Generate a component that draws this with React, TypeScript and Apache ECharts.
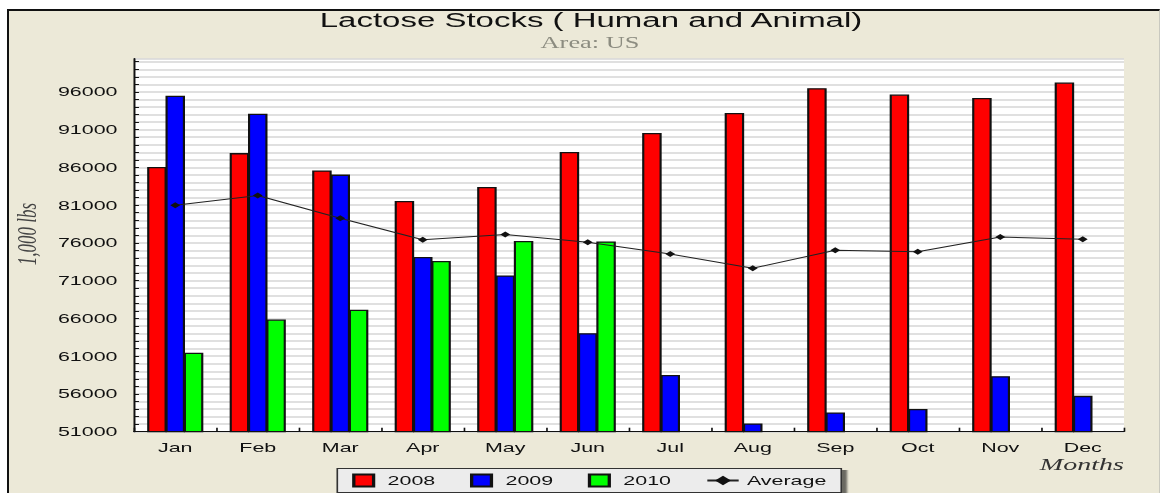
import React, { useEffect, useRef } from "react";
import * as echarts from "echarts";

const months = ["Jan", "Feb", "Mar", "Apr", "May", "Jun", "Jul", "Aug", "Sep", "Oct", "Nov", "Dec"];
const stocks2008 = [86050, 87900, 85600, 81550, 83400, 88050, 90550, 93200, 96500, 95650, 95200, 97250];
const stocks2009 = [95500, 93100, 85050, 74150, 71700, 64050, 58500, 52100, 53550, 54000, 58350, 55750];
const stocks2010 = [61450, 65850, 67150, 73600, 76250, 76200, null, null, null, null, null, null];
const average = [80990, 82280, 79260, 76430, 77120, 76090, 74530, 72650, 75030, 74830, 76780, 76500];

const Y_MIN = 51000;
const Y_MAX = 100400;
const Y_STEP = 1000;
const Y_LABEL_STEP = 5000;

const S = 1.65; // horizontal stretch of the original picture
const W = 1160 / S;
const H = 493;

const FONT = "Liberation Sans";
const SERIF = "Liberation Serif";
const squareIcon = "path://M0,0H10V10H0Z";

export default function App() {
  const ref = useRef<HTMLDivElement>(null);

  useEffect(() => {
    if (!ref.current) return;
    const chart = echarts.init(ref.current, null, { renderer: "svg", width: W, height: H });
    const barStyle = (color: string) => ({ color, borderColor: "#111", borderWidth: 1.3 });
    const barCommon = { type: "bar", barWidth: 19.5 / S, barGap: "-6%" };
    chart.setOption({
      animation: false,
      backgroundColor: "transparent",
      graphic: [
        {
          type: "text",
          x: 591 / S,
          y: 20.5,
          style: {
            text: "Lactose Stocks ( Human and Animal)",
            fontFamily: FONT,
            fontSize: 20,
            fill: "#111",
            align: "center",
            verticalAlign: "middle",
          },
        },
        {
          type: "text",
          x: 590 / S,
          y: 43,
          style: {
            text: "Area: US",
            fontFamily: SERIF,
            fontSize: 16,
            fill: "#8c8c80",
            align: "center",
            verticalAlign: "middle",
          },
        },
        {
          type: "text",
          x: 26 / S,
          y: 234,
          rotation: Math.PI / 2,
          style: {
            text: "1,000 lbs",
            fontFamily: SERIF,
            fontStyle: "italic",
            fontSize: 17,
            fill: "#444",
            align: "center",
            verticalAlign: "middle",
          },
        },
        {
          type: "text",
          x: 1124 / S,
          y: 464,
          style: {
            text: "Months",
            fontFamily: SERIF,
            fontStyle: "italic",
            fontSize: 17,
            fill: "#333",
            align: "right",
            verticalAlign: "middle",
          },
        },
      ],
      legend: {
        left: 337.3 / S,
        top: 468.5,
        orient: "horizontal",
        padding: [5, 9],
        itemWidth: 19,
        itemHeight: 12,
        itemGap: 21,
        backgroundColor: "#ececec",
        borderColor: "#333",
        borderWidth: 1,
        shadowColor: "rgba(0,0,0,0.55)",
        shadowBlur: 1,
        shadowOffsetX: 3,
        shadowOffsetY: 2,
        textStyle: { fontFamily: FONT, fontSize: 13, color: "#111" },
        data: [
          { name: "2008", icon: squareIcon },
          { name: "2009", icon: squareIcon },
          { name: "2010", icon: squareIcon },
          { name: "Average" },
        ],
      },
      grid: {
        left: 134 / S,
        right: W - 1124 / S,
        top: 58.7,
        bottom: H - 431.7,
        show: true,
        backgroundColor: "#ffffff",
        borderWidth: 0,
      },
      xAxis: {
        type: "category",
        data: months,
        boundaryGap: true,
        axisLine: { show: true, lineStyle: { color: "#111", width: 1.2 } },
        axisTick: { show: true, inside: true, length: 4, lineStyle: { color: "#111" } },
        axisLabel: { fontFamily: FONT, fontSize: 13, color: "#111", margin: 9, interval: 0 },
        splitLine: { show: false },
      },
      yAxis: {
        type: "value",
        min: Y_MIN,
        max: Y_MAX,
        interval: Y_STEP,
        axisLine: { show: true, lineStyle: { color: "#111", width: 1.2 } },
        axisTick: { show: true, inside: true, length: 3, lineStyle: { color: "#111" } },
        axisLabel: {
          fontFamily: FONT,
          fontSize: 13,
          color: "#111",
          margin: 10,
          showMaxLabel: false,
          formatter: (v: number) => ((v - Y_MIN) % Y_LABEL_STEP === 0 ? String(v) : ""),
        },
        splitLine: { show: true, lineStyle: { color: "#d6d6d6", width: 1.5 } },
      },
      series: [
        { ...barCommon, name: "2008", data: stocks2008, itemStyle: barStyle("#ff0000") },
        { ...barCommon, name: "2009", data: stocks2009, itemStyle: barStyle("#0000ff") },
        { ...barCommon, name: "2010", data: stocks2010, itemStyle: barStyle("#00ff00") },
        {
          name: "Average",
          type: "line",
          data: average,
          symbol: "diamond",
          symbolSize: 6,
          z: 5,
          lineStyle: { color: "#222", width: 1 },
          itemStyle: { color: "#111" },
        },
      ],
    });
    return () => chart.dispose();
  }, []);

  return (
    <div
      style={{
        position: "fixed",
        left: 0,
        top: 0,
        width: 1160,
        height: 493,
        overflow: "hidden",
        background: "#ffffff",
      }}
    >
      <div
        style={{
          position: "absolute",
          left: 7,
          top: 9,
          width: 1153,
          height: 500,
          boxSizing: "border-box",
          background: "#ECE9D8",
          borderTop: "2px solid #111",
          borderLeft: "2px solid #111",
          borderRight: "1px solid #c9c9c0",
        }}
      />
      <div
        ref={ref}
        style={{
          position: "absolute",
          left: 0,
          top: 0,
          width: W,
          height: H,
          transform: `scaleX(${S})`,
          transformOrigin: "0 0",
        }}
      />
    </div>
  );
}
